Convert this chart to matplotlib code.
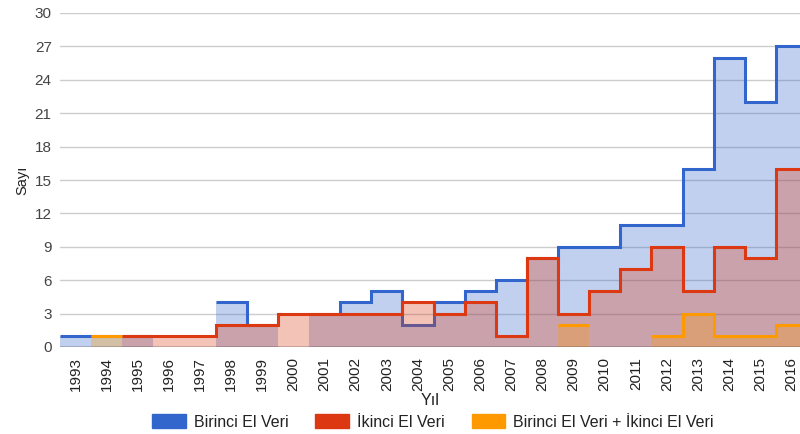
import numpy as np
import matplotlib
matplotlib.use("Agg")
import matplotlib.pyplot as plt
from matplotlib.patches import Patch

nan = np.nan

years = [str(y) for y in range(1993, 2017)]

# NaN = no value for that year (no line drawn)
birinci = [1, 1, 1, nan, nan, 4, 2, nan, 3, 4, 5, 2, 4, 5, 6, 8,
           9, 9, 11, 11, 16, 26, 22, 27]
ikinci = [nan, nan, 1, 1, 1, 2, 2, 3, 3, 3, 3, 4, 3, 4, 1, 8,
          3, 5, 7, 9, 5, 9, 8, 16]
ikisi = [nan, 1, nan, nan, nan, nan, nan, nan, nan, nan, nan, nan, nan, nan, nan, nan,
         2, nan, nan, 1, 3, 1, 1, 2]

series = [("Birinci El Veri", birinci, "#3366cc"),
          ("İkinci El Veri", ikinci, "#dc3912"),
          ("Birinci El Veri + İkinci El Veri", ikisi, "#ff9900")]

plt.rcParams['font.family'] = ['Liberation Sans', 'DejaVu Sans']

fig = plt.figure(figsize=(8, 4.34), dpi=100)
W, H = 800.0, 434.0
ax = fig.add_axes([60 / W, 1 - 347 / H, 747 / W, (347 - 13) / H])

edges = np.arange(len(years) + 1) - 0.5


def runs(vals):
    vals = np.asarray(vals, dtype=float)
    out = []
    i = 0
    while i < len(vals):
        if np.isnan(vals[i]):
            i += 1
            continue
        j = i
        while j < len(vals) and not np.isnan(vals[j]):
            j += 1
        out.append((i, j))
        i = j
    return vals, out


z = 2
for name, vals, color in series:
    v, segs = runs(vals)
    for i, j in segs:
        ax.stairs(v[i:j], edges[i:j + 1], fill=True, baseline=0,
                  color=color, alpha=0.3, linewidth=0, zorder=z)
        ax.stairs(v[i:j], edges[i:j + 1], baseline=None,
                  color=color, linewidth=2.2, zorder=z + 1)
    z += 2

ax.set_xlim(edges[0], edges[-1])
ax.set_ylim(0, 30)
ax.set_yticks(range(0, 31, 3))
ax.set_xticks(range(len(years)))
ax.set_xticklabels(years, rotation=90, fontsize=11, color="#222222")
ax.tick_params(axis='y', labelsize=11, colors="#444444", length=0, pad=6)
ax.tick_params(axis='x', length=0, pad=7)
ax.grid(axis='y', color="#cccccc", linewidth=1, zorder=0)
ax.set_axisbelow(True)
for s in ax.spines.values():
    s.set_visible(False)
ax.axhline(0, color="#333333", linewidth=1, zorder=10)

ax.set_ylabel("Sayı", fontsize=10.5, color="#222222", labelpad=4)
ax.set_xlabel("Yıl", fontsize=11.5, color="#222222")
ax.xaxis.set_label_coords((430 - 60) / 747, (347 - 393) / 334)

handles = [Patch(facecolor=c, edgecolor=c) for _, _, c in series]
fig.legend(handles, [n for n, _, _ in series], loc='center',
           bbox_to_anchor=(433 / W, 1 - 422 / H), ncol=3, frameon=False,
           fontsize=11.5, handlelength=2.1, handleheight=0.9,
           handletextpad=0.5, columnspacing=1.7, labelcolor="#222222")

fig.savefig("out.png", dpi=100)
